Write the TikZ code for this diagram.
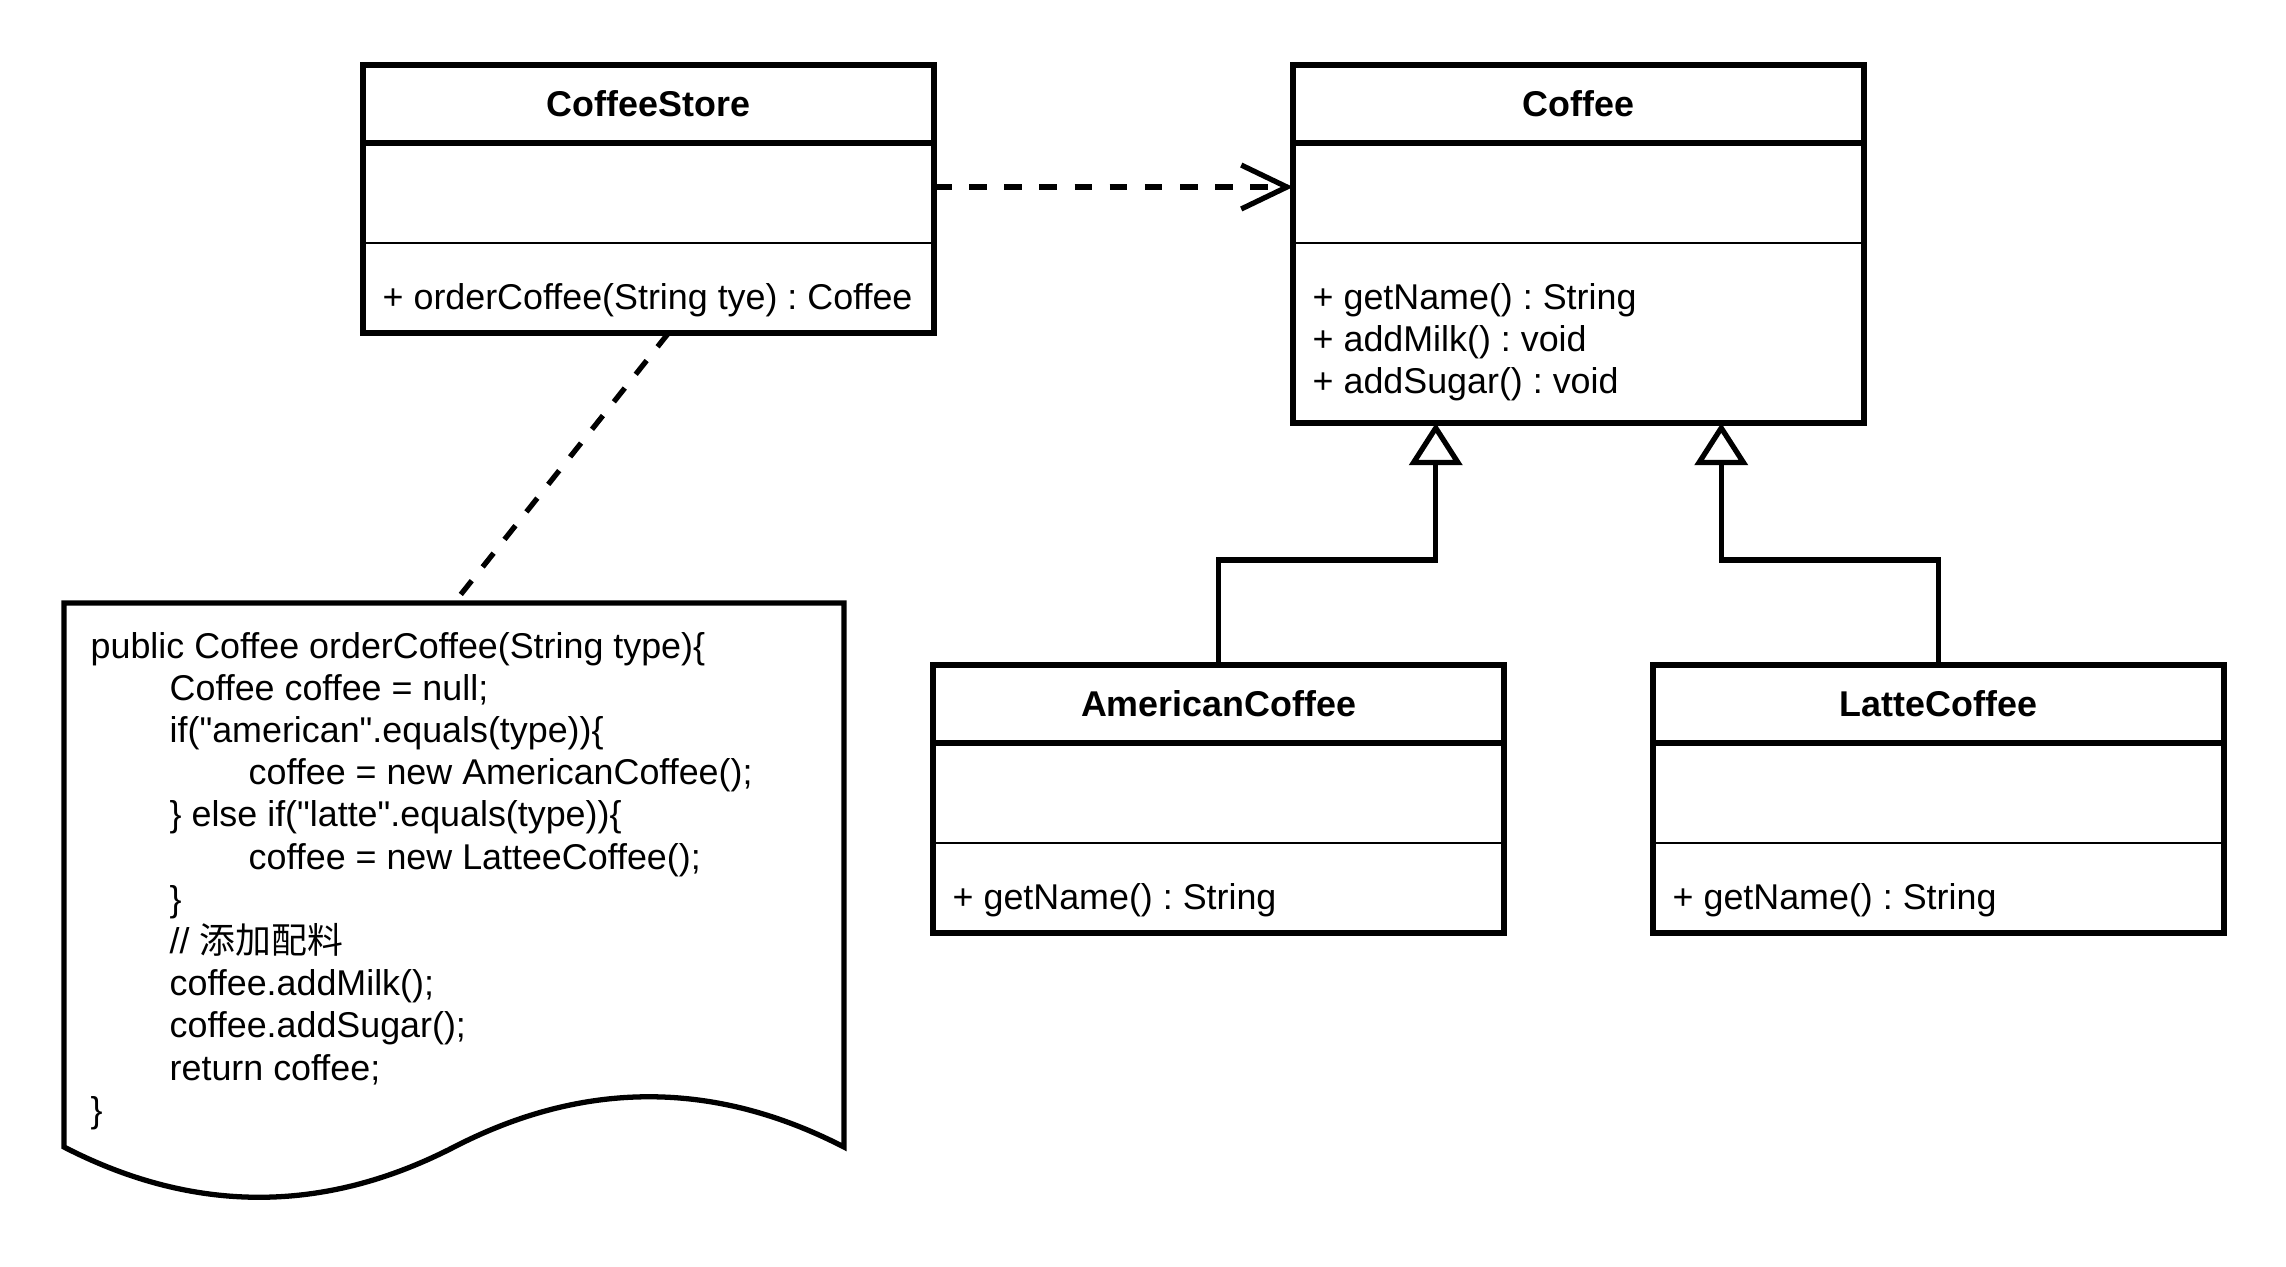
\documentclass[tikz,border=0pt]{standalone}
\usepackage{fontspec}
\setmainfont{Liberation Sans}[Ligatures=TeXOff]
\newfontfamily\cjk{Noto Sans CJK SC}
\usetikzlibrary{arrows.meta,positioning,calc}
\newcommand{\umlsize}{\fontsize{10.2}{12}\selectfont\frenchspacing}
\newlength{\codeindent}
\setlength{\codeindent}{0.79cm}

\begin{document}
\begin{tikzpicture}[
    classtitle/.style={minimum width=5.71cm, minimum height=0.78cm, inner sep=0, outer sep=0, anchor=north west, font=\umlsize\bfseries},
    classpart/.style={minimum width=5.71cm, inner sep=0, outer sep=0},
    methods/.style={anchor=north west, inner sep=0, align=left, font=\umlsize},
    outline/.style={line width=1.5pt},
    sepline/.style={line width=0.8pt},
    dependency/.style={line width=1.5pt, dash pattern=on 5pt off 5pt, -{Straight Barb[length=13pt,width=12.5pt]}},
    inherit/.style={line width=1.5pt, -{Triangle[open,length=12pt,width=15pt]}},
    noteline/.style={line width=1.5pt, dash pattern=on 5pt off 5pt}
]
    \useasboundingbox (0,0) rectangle (22.86,-12.66);

    % CoffeeStore
    \node[classtitle] (storeTitle) at (3.63,-0.65) {CoffeeStore};
    \node[classpart, minimum height=1.00cm, below=0pt of storeTitle] (storeAttr) {};
    \node[classpart, minimum height=0.90cm, below=0pt of storeAttr] (storeOps) {};
    \node[methods] (storeOpsText) at ($(storeOps.north west)+(0.19,-0.36)$) {\strut + orderCoffee(String tye) : Coffee};

    % Coffee
    \node[classtitle] (coffeeTitle) at (12.93,-0.65) {Coffee};
    \node[classpart, minimum height=1.00cm, below=0pt of coffeeTitle] (coffeeAttr) {};
    \node[classpart, minimum height=1.80cm, below=0pt of coffeeAttr] (coffeeOps) {};
    \node[methods] (coffeeOpsText) at ($(coffeeOps.north west)+(0.19,-0.36)$) {\strut + getName() : String\\+ addMilk() : void\\+ addSugar() : void};

    % AmericanCoffee
    \node[classtitle] (americanTitle) at (9.33,-6.65) {AmericanCoffee};
    \node[classpart, minimum height=1.00cm, below=0pt of americanTitle] (americanAttr) {};
    \node[classpart, minimum height=0.90cm, below=0pt of americanAttr] (americanOps) {};
    \node[methods] (americanOpsText) at ($(americanOps.north west)+(0.19,-0.36)$) {\strut + getName() : String};

    % LatteCoffee
    \node[classtitle] (latteTitle) at (16.53,-6.65) {LatteCoffee};
    \node[classpart, minimum height=1.00cm, below=0pt of latteTitle] (latteAttr) {};
    \node[classpart, minimum height=0.90cm, below=0pt of latteAttr] (latteOps) {};
    \node[methods] (latteOpsText) at ($(latteOps.north west)+(0.19,-0.36)$) {\strut + getName() : String};

    % class frames
    \draw[outline] (storeTitle.north west) rectangle (storeOps.south east);
    \draw[outline] (storeTitle.south west) -- (storeTitle.south east);
    \draw[sepline] (storeAttr.south west) -- (storeAttr.south east);
    \draw[outline] (coffeeTitle.north west) rectangle (coffeeOps.south east);
    \draw[outline] (coffeeTitle.south west) -- (coffeeTitle.south east);
    \draw[sepline] (coffeeAttr.south west) -- (coffeeAttr.south east);
    \draw[outline] (americanTitle.north west) rectangle (americanOps.south east);
    \draw[outline] (americanTitle.south west) -- (americanTitle.south east);
    \draw[sepline] (americanAttr.south west) -- (americanAttr.south east);
    \draw[outline] (latteTitle.north west) rectangle (latteOps.south east);
    \draw[outline] (latteTitle.south west) -- (latteTitle.south east);
    \draw[sepline] (latteAttr.south west) -- (latteAttr.south east);

    % code note
    \coordinate (noteTop) at (4.54,-6.03);
    \draw[outline] (0.64,-6.03) -- (8.44,-6.03) -- (8.44,-11.47)
        .. controls (7.14,-10.80) and (5.84,-10.80) .. (4.54,-11.47)
        .. controls (3.24,-12.14) and (1.94,-12.14) .. (0.64,-11.47) -- cycle;
    \node[methods] (code) at (0.90,-6.28) {\strut public Coffee orderCoffee(String type)\{\\
        \hspace*{\codeindent}Coffee coffee = null;\\
        \hspace*{\codeindent}if("american".equals(type))\{\\
        \hspace*{2\codeindent}coffee = new AmericanCoffee();\\
        \hspace*{\codeindent}\} else if("latte".equals(type))\{\\
        \hspace*{2\codeindent}coffee = new LatteeCoffee();\\
        \hspace*{\codeindent}\}\\
        \hspace*{\codeindent}// {\cjk 添加配料}\\
        \hspace*{\codeindent}coffee.addMilk();\\
        \hspace*{\codeindent}coffee.addSugar();\\
        \hspace*{\codeindent}return coffee;\\
        \}};

    % relations
    \draw[dependency] ([yshift=0.06cm]storeAttr.east) -- ([yshift=0.06cm]coffeeAttr.west);
    \draw[noteline] ($(storeOps.south)+(0.20,0)$) -- (noteTop);
    \coordinate (inA) at ($(coffeeOps.south west)!0.25!(coffeeOps.south east)$);
    \coordinate (inL) at ($(coffeeOps.south west)!0.75!(coffeeOps.south east)$);
    \draw[inherit] (americanTitle.north) -- ++(0,1.05) -| (inA);
    \draw[inherit] (latteTitle.north) -- ++(0,1.05) -| (inL);
\end{tikzpicture}
\end{document}
